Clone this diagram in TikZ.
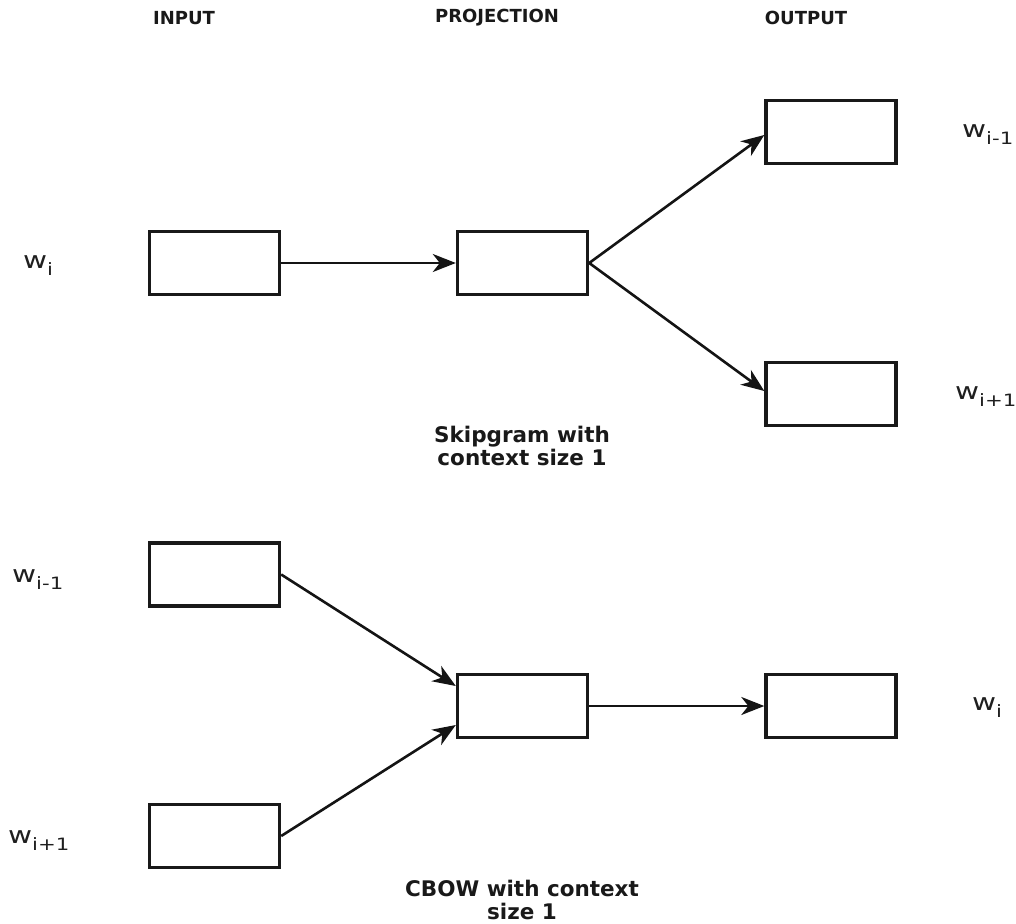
\documentclass[tikz,border=0pt]{standalone}
\usepackage{fontspec}
\setmainfont{DejaVu Sans}
\usetikzlibrary{arrows.meta,calc}
% word vector label: w with a lowered index
\newcommand{\wvec}[1]{\scalebox{1.25}[1]{w\raisebox{-7pt}{\fontsize{17}{19}\selectfont #1}}}
\begin{document}
\begin{tikzpicture}[x=1pt,y=-1pt,
  unit/.style={draw=black!90, line width=3.4pt, minimum width=130pt, minimum height=63pt, inner sep=0pt, fill=white},
  flow/.style={line width=2.6pt, draw=black!92, -{Stealth[length=23pt,width=18pt,inset=7pt]}},
  head/.style={inner sep=0pt, font=\fontsize{18}{22}\selectfont\bfseries, text=black!90},
  caption/.style={inner sep=0pt, align=center, font=\fontsize{21.5}{23}\selectfont\bfseries, text=black!90},
  lbl/.style={anchor=base west, inner sep=0pt, font=\fontsize{23.5}{26}\selectfont, text=black!88}]
\useasboundingbox (0,0) rectangle (1016,923);

% column headings
\node[head] (hin)  at (184,18) {INPUT};
\node[head] (hpr)  at (497,18) {PROJECTION};
\node[head] (hout) at (806,18) {OUTPUT};

% skip-gram
\node[unit] (sin)   at (214.5,263) {};
\node[unit] (sproj) at (522.5,263) {};
\node[unit] (sout1) at (831,132) {};
\node[unit] (sout2) at (831,394) {};
\draw[flow] (sin.east) -- (sproj.west);
\draw[flow] (sproj.east) -- ($(sout1.west)+(0,3)$);
\draw[flow] (sproj.east) -- ($(sout2.west)+(0,-3)$);
\node[lbl] (lsin)   at (23,268)  {\wvec{i}};
\node[lbl] (lsout1) at (962,137) {\wvec{i-1}};
\node[lbl] (lsout2) at (955,399) {\wvec{i+1}};
\node[caption] (scap) at (522,446) {Skipgram with\\context size 1};

% CBOW
\node[unit] (cin1)  at (214.5,574.5) {};
\node[unit] (cin2)  at (214.5,836) {};
\node[unit] (cproj) at (522.5,706) {};
\node[unit] (cout)  at (831,706) {};
\draw[flow] (cin1.east) -- ($(cproj.west)+(0,-20)$);
\draw[flow] (cin2.east) -- ($(cproj.west)+(0,19)$);
\draw[flow] (cproj.east) -- (cout.west);
\node[lbl] (lcin1) at (12,582)  {\wvec{i-1}};
\node[lbl] (lcin2) at (8,843)   {\wvec{i+1}};
\node[lbl] (lcout) at (972,710) {\wvec{i}};
\node[caption] (ccap) at (522,899.5) {CBOW with context\\size 1};
\end{tikzpicture}
\end{document}
